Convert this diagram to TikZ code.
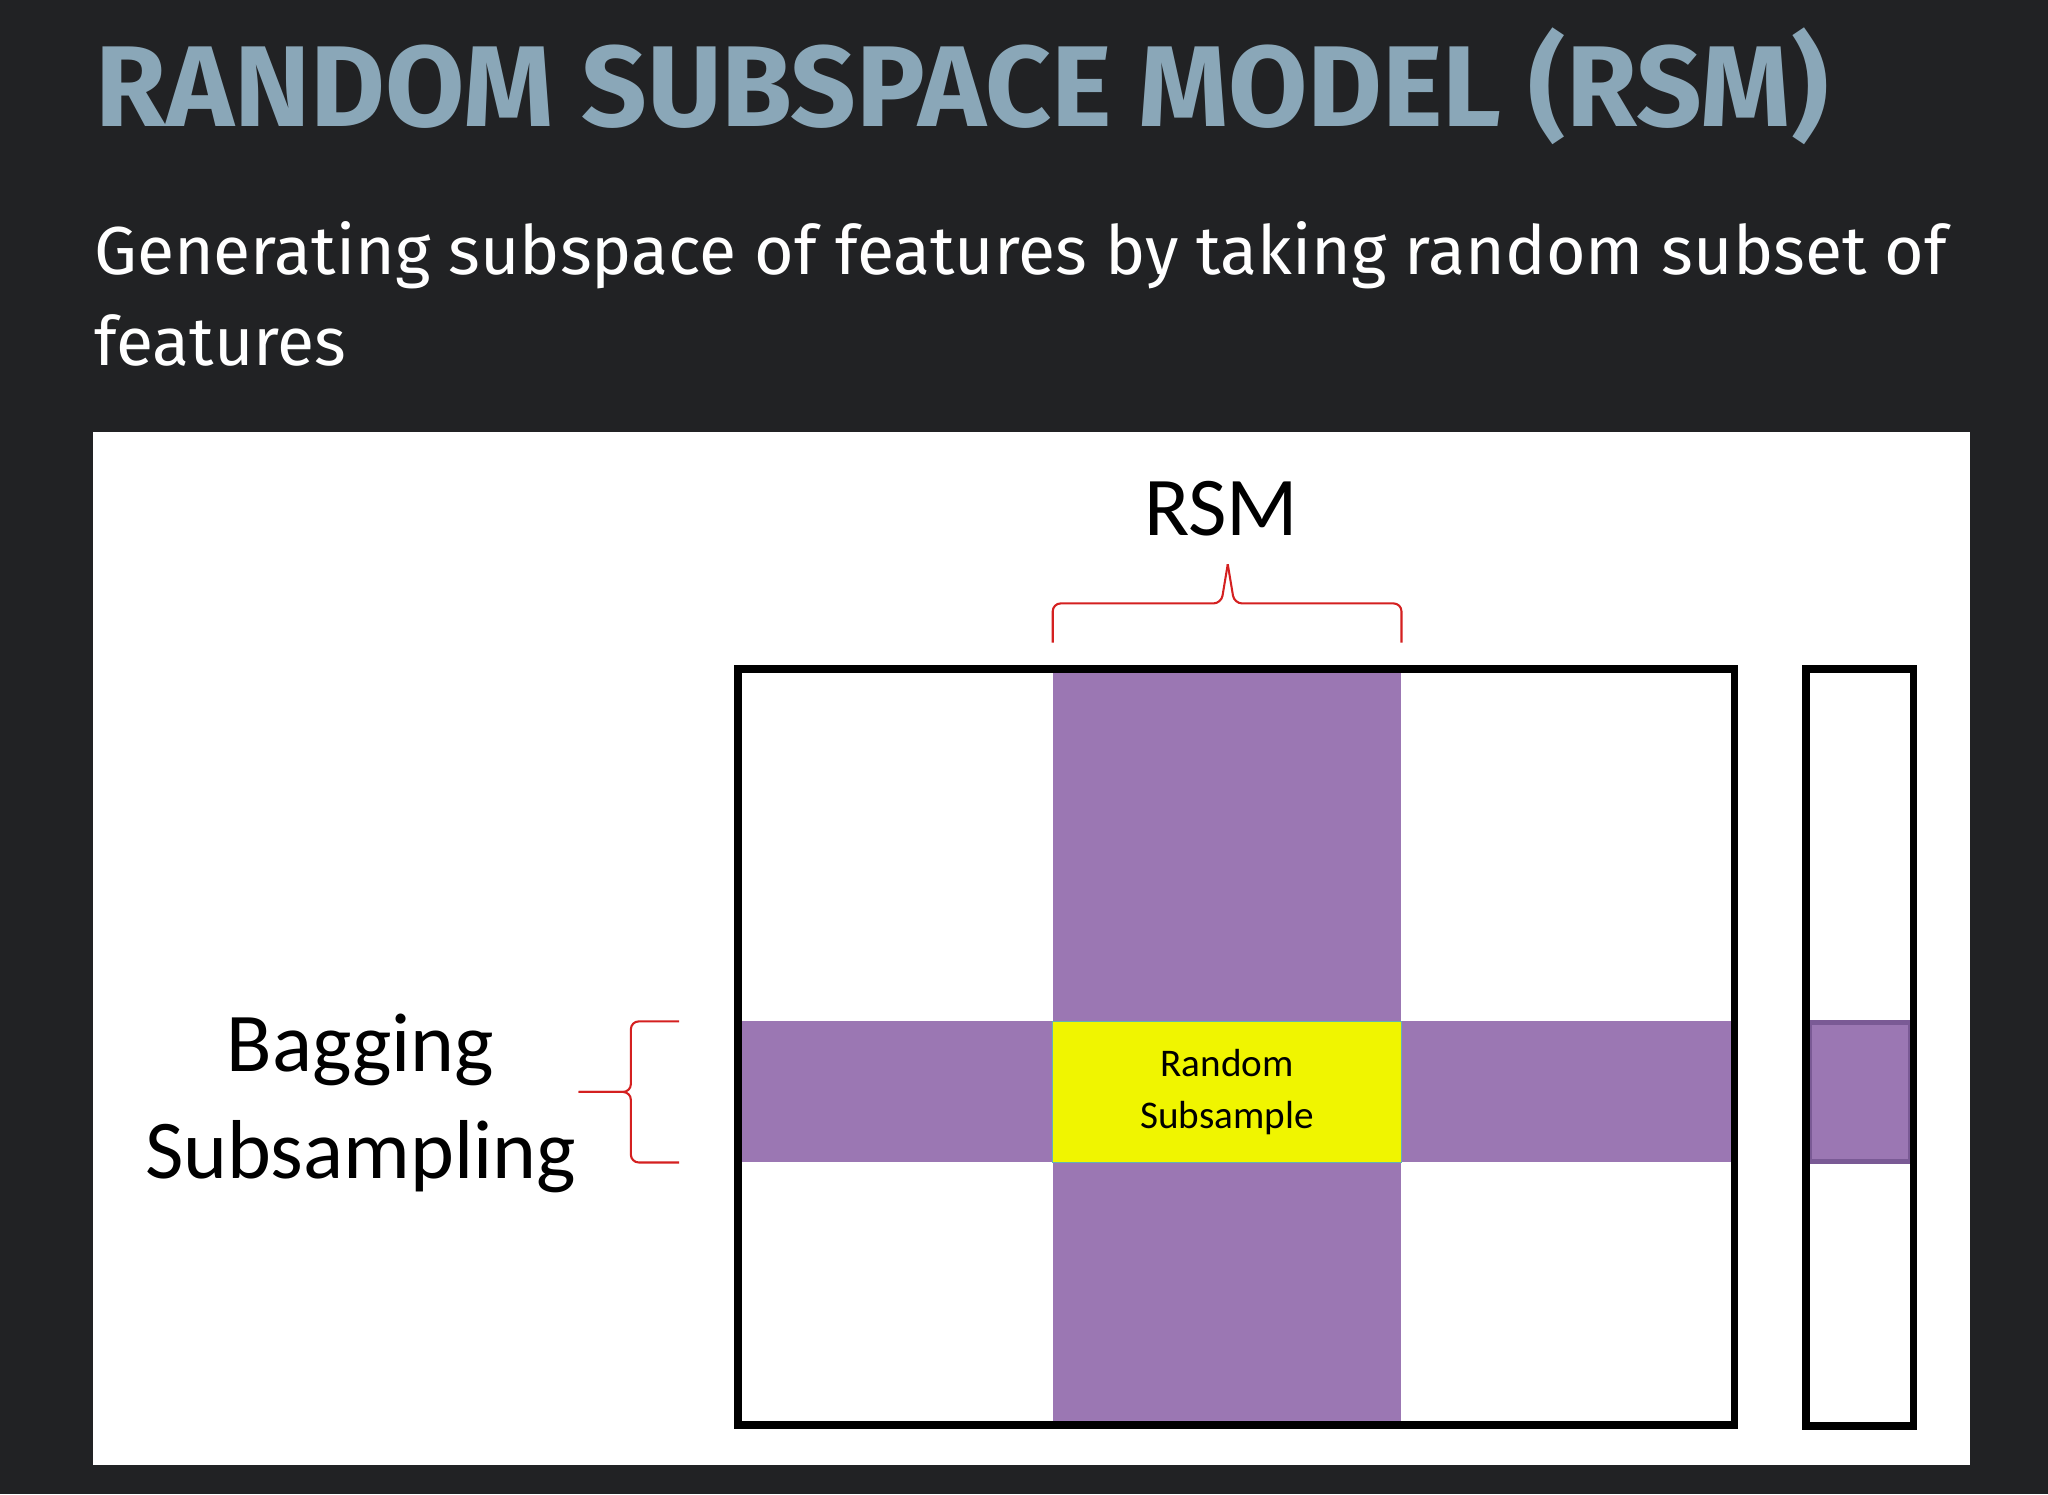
\documentclass[tikz,border=0pt]{standalone}
\usepackage{fontspec}
\setmainfont{Fira Sans}
\newfontfamily\calib{Carlito}
\definecolor{bg}{HTML}{212224}
\definecolor{ttl}{HTML}{8AA7B8}
\definecolor{purp}{HTML}{9B77B3}
\definecolor{dpurp}{HTML}{7A5A95}
\definecolor{yel}{HTML}{F0F500}
\definecolor{brace}{HTML}{D42020}
\begin{document}
\begin{tikzpicture}[x=1pt,y=-1pt,
  frame/.style={draw=black,line width=6pt},
  brc/.style={draw=brace,line width=1.6pt,rounded corners=6pt}]
\useasboundingbox (0,0) rectangle (1568,1144);
\fill[bg] (0,0) rectangle (1568,1144);
\node[anchor=base west,inner sep=0,text=ttl,font=\fontsize{88}{96}\selectfont\bfseries] (title) at (73,97) {RANDOM SUBSPACE MODEL (RSM)};
\node[anchor=base west,inner sep=0,text=white,font=\fontsize{52}{70}\selectfont,align=left] (sub) at (72,210) {Generating subspace of features by taking random subset of};
\node[anchor=base west,inner sep=0,text=white,font=\fontsize{52}{70}\selectfont] (sub2) at (72,280) {features};
\fill[white] (71,331) rectangle (1508,1122);
% purple bands
\fill[purp] (806,515) rectangle (1073,1090);
\fill[purp] (565,782) rectangle (1326,890);
\node[draw=teal!60,line width=1pt,fill=yel,minimum width=267pt,minimum height=108pt,inner sep=0,align=center,font=\calib\fontsize{30}{40}\selectfont] (rs) at (939.5,836) {Random\\Subsample};
\draw[frame] (565,512) rectangle (1328,1091);
\fill[purp] (1383,781) rectangle (1465,891);
\draw[dpurp,line width=4pt] (1385,783) rectangle (1463,889);
\draw[frame] (1383,512) rectangle (1465,1092);
% labels
\node[anchor=base,inner sep=0,font=\calib\fontsize{64}{70}\selectfont] (rsm) at (935,410) {RSM};
\node[align=center,inner sep=0,font=\calib\fontsize{64}{82}\selectfont] (bag) at (276,845) {Bagging\\Subsampling};
% braces
\draw[brc] (806,492) -- (806,462) -- (935,462) -- (940,432);
\draw[brc] (1073,492) -- (1073,462) -- (945,462) -- (940,432);
\draw[brc] (520,782) -- (483,782) -- (483,836) -- (443,836);
\draw[brc] (520,890) -- (483,890) -- (483,836) -- (443,836);
\end{tikzpicture}
\end{document}
